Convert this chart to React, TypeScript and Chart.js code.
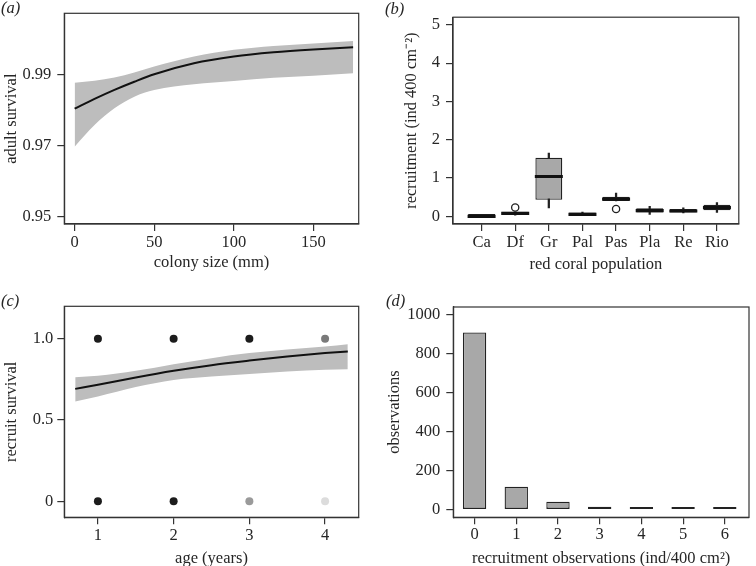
import React, { useEffect, useRef } from "react";
import { Chart, registerables } from "chart.js";

Chart.register(...registerables);

const W = 756;
const H = 566;

// ---------- (a) adult survival vs colony size ----------
const sizeX = [0, 12.5, 25, 37.5, 50, 75, 100, 125, 150, 175];
const adultFit = [0.9803, 0.98305, 0.9856, 0.9879, 0.99, 0.9931, 0.995, 0.9962, 0.997, 0.9976];
const adultUpper = [0.98765, 0.9882, 0.9891, 0.9905, 0.9922, 0.995, 0.9969, 0.998, 0.9987, 0.9994];
const adultLower = [0.9696, 0.9757, 0.9804, 0.9837, 0.9856, 0.9872, 0.9881, 0.989, 0.9896, 0.9903];
const aXTicks = [0, 50, 100, 150];
const aYTicks = [0.95, 0.97, 0.99];
const aYLabels = ["0.95", "0.97", "0.99"];

// ---------- (b) recruitment by population ----------
const populations = ["Ca", "Df", "Gr", "Pal", "Pas", "Pla", "Re", "Rio"];
const whiskerLow = [-0.02, 0.03, 0.22, 0.0, 0.4, 0.05, 0.09, 0.1];
const q1 = [-0.01, 0.04, 0.43, 0.01, 0.4, 0.1, 0.1, 0.16];
const medians = [0.0, 0.08, 1.04, 0.05, 0.45, 0.15, 0.14, 0.23];
const q3 = [0.02, 0.12, 1.53, 0.1, 0.51, 0.21, 0.19, 0.3];
const whiskerHigh = [0.02, 0.12, 1.65, 0.11, 0.61, 0.26, 0.22, 0.36];
const outlierPop = [2, 5];
const outlierVal = [0.23, 0.19];
const bYTicks = [0, 1, 2, 3, 4, 5];

// ---------- (c) recruit survival vs age ----------
const ageX = [0.7, 1, 1.5, 2, 2.5, 3, 3.5, 4, 4.3];
const recFit = [0.692, 0.717, 0.762, 0.803, 0.838, 0.866, 0.891, 0.912, 0.922];
const recUpper = [0.764, 0.772, 0.803, 0.844, 0.881, 0.912, 0.934, 0.953, 0.967];
const recLower = [0.614, 0.645, 0.703, 0.747, 0.768, 0.784, 0.799, 0.809, 0.813];
const obsAge = [1, 2, 3, 4, 1, 2, 3, 4];
const obsSurv = [1, 1, 1, 1, 0, 0, 0, 0];
const cXTicks = [1, 2, 3, 4];
const cYTicks = [0, 0.5, 1];
const cYLabels = ["0", "0.5", "1.0"];

// ---------- (d) recruitment observation histogram ----------
const recCounts = [0, 1, 2, 3, 4, 5, 6];
const recObs = [909, 117, 40, 14, 5, 2, 4];
const dYTicks = [0, 200, 400, 600, 800, 1000];

// ---------- styles ----------
const FAMILY = "'Liberation Serif', 'Times New Roman', serif";
const FONT = { family: FAMILY, size: 16.5, lineHeight: 1 };
const TXT = "#262626";
const AX = "#333333";
const BAND = "#bdbdbd";
const BARFILL = "#a8a8a8";
const pointShades = ["#1c1c1c", "#1c1c1c", "#1c1c1c", "#7a7a7a", "#1c1c1c", "#1c1c1c", "#9a9a9a", "#dcdcdc"];

type Box = { l: number; t: number; r: number; b: number; yTitleX: number; xTitleY: number };
type AxisSpec = {
  min: number;
  max: number;
  ticks: number[];
  labels?: string[];
  title: string;
  pad: number;
};

function buildScales(box: Box, x: AxisSpec, y: AxisSpec) {
  const half = (FONT.size * FONT.lineHeight) / 2;
  const common = (a: AxisSpec) => ({
    type: "linear",
    min: a.min,
    max: a.max,
    offset: false,
    afterBuildTicks: (s: any) => {
      s.ticks = a.ticks.map((v) => ({ value: v }));
    },
    ticks: {
      autoSkip: false,
      maxRotation: 0,
      minRotation: 0,
      padding: a.pad,
      color: TXT,
      font: FONT,
      callback: (v: any, i: number) => (a.labels ? a.labels[i] : String(v)),
    },
    grid: {
      display: true,
      drawOnChartArea: false,
      offset: false,
      tickLength: 7,
      color: AX,
      lineWidth: 1.2,
    },
    border: { display: true, color: AX, width: 1.2 },
  });
  return {
    x: {
      ...common(x),
      position: "bottom",
      afterFit: (s: any) => {
        s.height = H - box.b;
        s.paddingLeft = 0;
        s.paddingRight = 0;
      },
      title: {
        display: true,
        text: x.title,
        color: TXT,
        font: FONT,
        padding: { top: 0, bottom: H - box.xTitleY - half },
      },
    },
    y: {
      ...common(y),
      position: "left",
      afterFit: (s: any) => {
        s.width = box.l;
        s.paddingTop = 0;
        s.paddingBottom = 0;
      },
      title: {
        display: true,
        text: y.title,
        color: TXT,
        font: FONT,
        padding: { top: box.yTitleX - half, bottom: 0 },
      },
    },
  };
}

function baseOptions(box: Box, label: { text: string; x: number; y: number }, scales: any) {
  return {
    responsive: false,
    devicePixelRatio: 1,
    animation: false,
    events: [],
    layout: { padding: { left: 0, top: box.t, right: W - box.r, bottom: 0 } },
    plugins: {
      legend: { display: false },
      tooltip: { enabled: false },
      panelLabel: label,
    },
    scales,
  };
}

const frame = {
  id: "frame",
  afterDatasetsDraw(chart: any) {
    const { ctx, chartArea } = chart;
    ctx.save();
    ctx.strokeStyle = AX;
    ctx.lineWidth = 1.2;
    ctx.strokeRect(chartArea.left, chartArea.top, chartArea.right - chartArea.left, chartArea.bottom - chartArea.top);
    ctx.restore();
  },
};

const panelLabel = {
  id: "panelLabel",
  afterDraw(chart: any, _args: any, opts: any) {
    const { ctx } = chart;
    ctx.save();
    ctx.font = `italic ${FONT.size}px ${FAMILY}`;
    ctx.fillStyle = TXT;
    ctx.textAlign = "left";
    ctx.textBaseline = "middle";
    ctx.fillText(opts.text, opts.x, opts.y);
    ctx.restore();
  },
};

const pts = (xs: number[], ys: number[]) => xs.map((x, i) => ({ x, y: ys[i] }));

const lineDs = (xs: number[], ys: number[]) => ({
  data: pts(xs, ys),
  borderColor: "#111",
  borderWidth: 2,
  pointRadius: 0,
  fill: false,
  cubicInterpolationMode: "monotone",
});

const bandDs = (xs: number[], ys: number[], fillPrev: boolean) => ({
  data: pts(xs, ys),
  borderColor: "transparent",
  borderWidth: 0,
  pointRadius: 0,
  backgroundColor: BAND,
  fill: fillPrev ? "-1" : false,
  cubicInterpolationMode: "monotone",
});

function configA() {
  const box = { l: 64.3, t: 13.3, r: 358.7, b: 224, yTitleX: 12, xTitleY: 263 };
  return {
    type: "line",
    data: {
      datasets: [lineDs(sizeX, adultFit), bandDs(sizeX, adultUpper, false), bandDs(sizeX, adultLower, true)],
    },
    options: baseOptions(
      box,
      { text: "(a)", x: 1, y: 8.5 },
      buildScales(
        box,
        { min: -6.5, max: 178.5, ticks: aXTicks, title: "colony size (mm)", pad: 3 },
        { min: 0.9478, max: 1.0072, ticks: aYTicks, labels: aYLabels, title: "adult survival", pad: 6 }
      )
    ),
    plugins: [frame, panelLabel],
  };
}

function configB() {
  const box = { l: 453, t: 15.7, r: 749.7, b: 224, yTitleX: 412, xTitleY: 265 };
  const idx = populations.map((_, i) => i + 1);
  return {
    type: "bar",
    data: {
      datasets: [
        {
          type: "scatter",
          data: pts(idx, medians),
          pointStyle: "line",
          pointRadius: 14,
          borderColor: "#111",
          borderWidth: 3.2,
          order: 0,
        },
        {
          type: "scatter",
          data: pts(outlierPop, outlierVal),
          pointStyle: "circle",
          pointRadius: 3.6,
          backgroundColor: "#ffffff",
          borderColor: "#222",
          borderWidth: 1.3,
          order: 1,
        },
        {
          type: "bar",
          data: idx.map((x, i) => ({ x, y: [q1[i], q3[i]] })),
          backgroundColor: BARFILL,
          borderColor: "#222",
          borderWidth: 1.3,
          borderSkipped: false,
          minBarLength: 2.8,
          grouped: false,
          barPercentage: 0.8,
          categoryPercentage: 1,
          order: 2,
        },
        {
          type: "bar",
          data: idx.map((x, i) => ({ x, y: [whiskerLow[i], whiskerHigh[i]] })),
          backgroundColor: "#222",
          borderWidth: 0,
          grouped: false,
          barThickness: 1.6,
          order: 3,
        },
      ],
    },
    options: baseOptions(
      box,
      { text: "(b)", x: 385, y: 9.5 },
      buildScales(
        box,
        { min: 0.15, max: 8.65, ticks: idx, labels: populations, title: "red coral population", pad: 3 },
        { min: -0.2, max: 5.2, ticks: bYTicks, title: "recruitment (ind 400 cm\u207B\u00B2)", pad: 6 }
      )
    ),
    plugins: [frame, panelLabel],
  };
}

function configC() {
  const box = { l: 64.3, t: 306.3, r: 358.7, b: 517.3, yTitleX: 12, xTitleY: 559 };
  return {
    type: "line",
    data: {
      datasets: [
        {
          type: "scatter",
          data: pts(obsAge, obsSurv),
          pointRadius: 4,
          pointBorderWidth: 0,
          backgroundColor: pointShades,
          borderColor: pointShades,
        },
        lineDs(ageX, recFit),
        bandDs(ageX, recUpper, false),
        bandDs(ageX, recLower, true),
      ],
    },
    options: baseOptions(
      box,
      { text: "(c)", x: 1, y: 302 },
      buildScales(
        box,
        { min: 0.556, max: 4.444, ticks: cXTicks, title: "age (years)", pad: 3 },
        { min: -0.098, max: 1.2, ticks: cYTicks, labels: cYLabels, title: "recruit survival", pad: 4 }
      )
    ),
    plugins: [frame, panelLabel],
  };
}

function configD() {
  const box = { l: 453.3, t: 307, r: 749, b: 517.3, yTitleX: 395, xTitleY: 559 };
  return {
    type: "bar",
    data: {
      datasets: [
        {
          data: pts(recCounts, recObs),
          backgroundColor: BARFILL,
          borderColor: "#222",
          borderWidth: 1.3,
          borderSkipped: false,
          minBarLength: 2.6,
          barPercentage: 0.56,
          categoryPercentage: 1,
        },
      ],
    },
    options: baseOptions(
      box,
      { text: "(d)", x: 386, y: 301.5 },
      buildScales(
        box,
        { min: -0.51, max: 6.58, ticks: recCounts, title: "recruitment observations (ind/400 cm\u00B2)", pad: 2 },
        { min: -40, max: 1040, ticks: dYTicks, title: "observations", pad: 6 }
      )
    ),
    plugins: [frame, panelLabel],
  };
}

function Panel({ make }: { make: () => any }) {
  const ref = useRef<HTMLCanvasElement | null>(null);
  useEffect(() => {
    if (!ref.current) return;
    const chart = new Chart(ref.current, make());
    return () => chart.destroy();
  }, [make]);
  return (
    <canvas
      ref={ref}
      width={W}
      height={H}
      style={{ position: "absolute", left: 0, top: 0, width: W, height: H, display: "block" }}
    />
  );
}

export default function App() {
  return (
    <div style={{ position: "absolute", left: 0, top: 0, width: W, height: H, background: "#ffffff" }}>
      <Panel make={configA} />
      <Panel make={configB} />
      <Panel make={configC} />
      <Panel make={configD} />
    </div>
  );
}
